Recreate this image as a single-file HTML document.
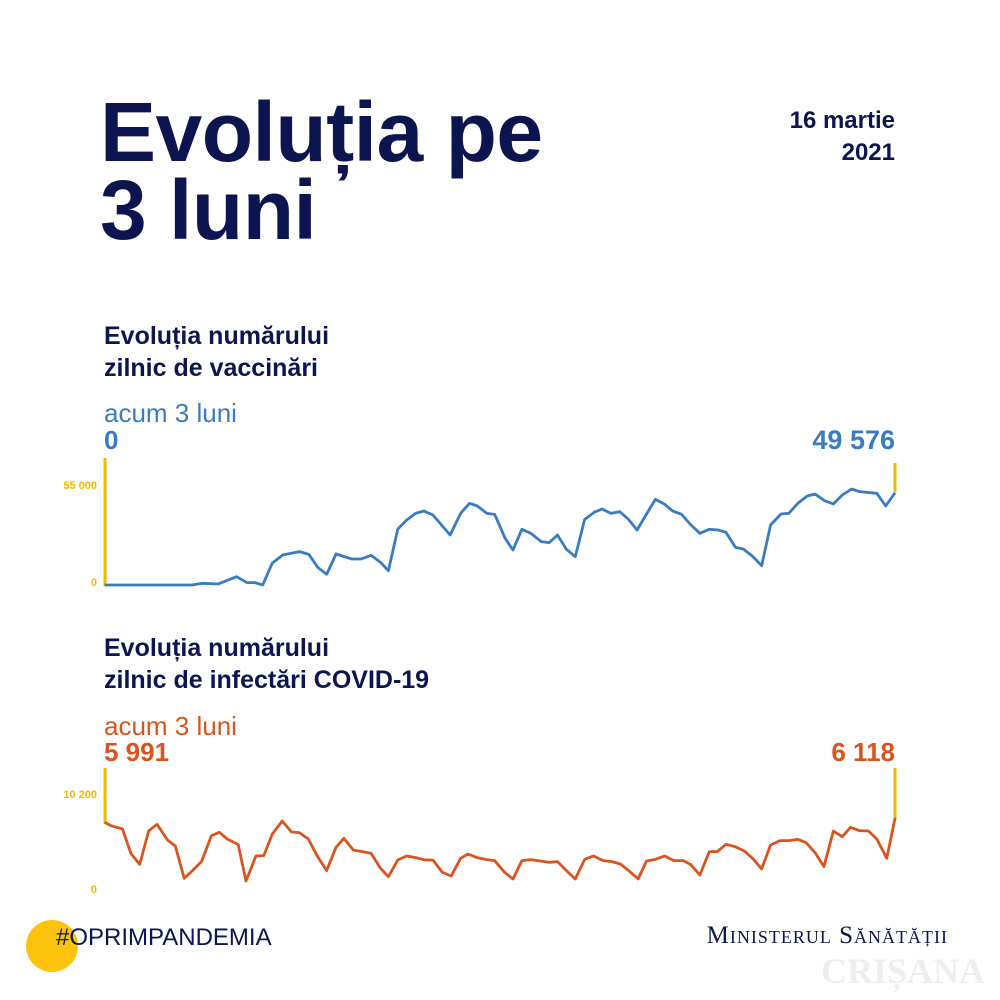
<!DOCTYPE html>
<html><head><meta charset="utf-8"><style>
body{margin:0;width:1000px;height:1000px;background:#fff;position:relative;overflow:hidden;font-family:"Liberation Sans","DejaVu Sans",sans-serif;color:#0d1550}
.t{position:absolute;white-space:nowrap}
</style></head><body>
<div class="t" style="left:100px;top:93px;font-size:84px;font-weight:bold;line-height:78px;letter-spacing:-0.5px">Evoluția pe<br>3 luni</div>
<div class="t" style="right:105px;top:105px;font-size:24px;font-weight:bold;text-align:right;line-height:32px">16 martie<br>2021</div>
<div class="t" style="left:104px;top:320px;font-size:25px;font-weight:bold;line-height:32px">Evoluția numărului<br>zilnic de vaccinări</div>
<div class="t" style="left:104px;top:398px;font-size:26px;color:#3a7cc1">acum 3 luni</div>
<div class="t" style="left:104px;top:425px;font-size:26px;font-weight:bold;color:#3a7cc1">0</div>
<div class="t" style="right:105px;top:425px;font-size:27px;font-weight:bold;color:#3a7cc1">49 576</div>
<div class="t" style="right:903px;top:480px;font-size:11px;font-weight:bold;color:#f5b800">55 000</div>
<div class="t" style="right:903px;top:577px;font-size:11px;font-weight:bold;color:#f5b800">0</div>
<div class="t" style="left:104px;top:632px;font-size:25px;font-weight:bold;line-height:32px">Evoluția numărului<br>zilnic de infectări COVID-19</div>
<div class="t" style="left:104px;top:711px;font-size:26px;color:#d9541e">acum 3 luni</div>
<div class="t" style="left:104px;top:737px;font-size:26px;font-weight:bold;color:#d9541e">5 991</div>
<div class="t" style="right:105px;top:737px;font-size:26px;font-weight:bold;color:#d9541e">6 118</div>
<div class="t" style="right:903px;top:789px;font-size:11px;font-weight:bold;color:#f5b800">10 200</div>
<div class="t" style="right:903px;top:884px;font-size:11px;font-weight:bold;color:#f5b800">0</div>
<svg width="1000" height="1000" style="position:absolute;left:0;top:0">
<line x1="105" y1="458" x2="105" y2="586" stroke="#f5b800" stroke-width="3"/>
<line x1="895" y1="463" x2="895" y2="492" stroke="#f5b800" stroke-width="3"/>
<line x1="105" y1="768" x2="105" y2="823" stroke="#f5b800" stroke-width="3"/>
<line x1="895" y1="768" x2="895" y2="818" stroke="#f5b800" stroke-width="3"/>
<g transform="translate(90,450) scale(0.5235,0.3333)"><polyline fill="none" stroke="#3a7cc1" vector-effect="non-scaling-stroke" stroke-linejoin="round" style="stroke-width:2.8px" points="28,405 195,405 215,400 245,402 280,380 300,398 315,398 330,405 348,340 368,315 400,305 418,313 435,352 452,373 470,312 500,327 518,327 537,316 555,337 570,362 588,237 605,210 622,190 638,183 655,195 688,255 708,190 725,160 740,168 758,190 773,193 793,265 808,300 825,238 842,250 862,275 877,278 893,255 910,298 927,320 945,208 963,187 978,177 995,190 1012,185 1028,207 1045,240 1062,195 1080,148 1097,162 1113,183 1130,193 1148,225 1165,250 1183,238 1200,240 1215,247 1233,292 1248,297 1265,318 1283,347 1300,225 1320,192 1335,190 1352,160 1370,138 1385,132 1403,152 1420,162 1437,135 1455,117 1470,125 1503,130 1520,168 1538,128"/></g>
<g transform="translate(90,770) scale(0.5235,0.3333)"><polyline fill="none" stroke="#d9541e" vector-effect="non-scaling-stroke" stroke-linejoin="round" style="stroke-width:2.8px" points="28,157 40,167 62,177 78,250 95,283 112,183 128,163 148,210 163,228 180,325 195,303 213,275 232,197 247,187 262,207 283,223 298,333 317,258 332,257 348,193 367,153 385,186 400,188 417,207 433,255 452,302 470,232 485,205 503,240 520,245 537,250 555,295 570,320 588,270 605,258 622,263 640,270 655,270 673,307 690,318 708,265 722,252 738,262 755,268 773,272 792,307 808,327 825,272 842,269 860,273 878,277 893,275 910,302 927,327 945,268 962,258 980,272 997,275 1013,282 1030,303 1047,327 1063,273 1080,268 1098,258 1115,272 1133,272 1147,283 1165,315 1183,245 1198,245 1215,223 1232,230 1250,243 1267,267 1283,297 1300,225 1318,212 1335,212 1352,208 1368,218 1385,248 1402,290 1420,183 1437,200 1453,172 1470,182 1487,183 1503,207 1522,265 1538,143"/></g>
<circle cx="52" cy="946" r="26" fill="#fcc20c"/>
</svg>
<div class="t" style="left:56px;top:924px;font-size:24px">#OPRIMPANDEMIA</div>
<div class="t" style="right:52px;top:922px;font-size:25px;font-family:'Liberation Serif',serif;font-variant:small-caps;letter-spacing:1px">Ministerul Sănătății</div>
<div class="t" style="right:15px;top:950px;font-size:36px;font-family:'Liberation Serif',serif;font-weight:bold;color:#eeeeee">CRIȘANA</div>
</body></html>
